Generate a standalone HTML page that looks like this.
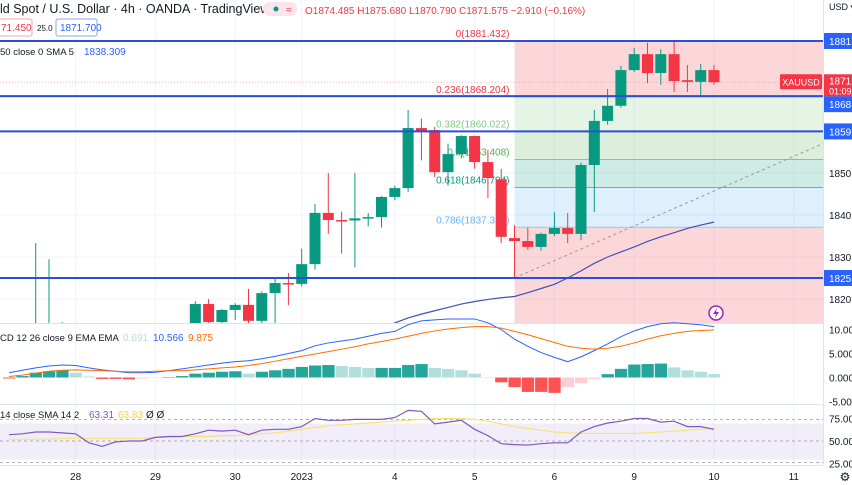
<!DOCTYPE html>
<html><head><meta charset="utf-8"><style>
body{margin:0;background:#fff;font-family:"Liberation Sans",sans-serif;}
svg{display:block}
</style></head><body>
<svg id="c" width="852" height="485" viewBox="0 0 852 485" font-family="Liberation Sans, sans-serif"></svg>
<script>
const opens=[null,null,1812,1812,1812,null,null,null,null,null,null,null,null,null,1813,1818.8,1814.5,1817.4,1818.6,1814.8,1821.4,1823.8,1823.6,1828.3,1840.5,1838.8,1838.7,1839.2,1839.5,1844.3,1846.4,1860.7,1860.2,1850.2,1854.5,1858.8,1852.6,1848.5,1834.5,1833.8,1832.4,1835.5,1836.9,1835.5,1851.9,1862.4,1866,1874.5,1878.3,1873.8,1878.3,1872.1,1871.7,1874.5];
const highs=[null,null,1833.3,1829.5,1814.5,null,null,null,null,null,null,null,null,null,1819.5,1820,1817.6,1819,1822.4,1821.8,1825,1826.2,1832,1842.6,1850,1840.8,1850,1840.5,1844.5,1847,1865,1863,1861,1857,1859,1858.9,1855.5,1851,1837.6,1837,1835.8,1840.7,1840.5,1852.5,1865,1870,1875.5,1879.8,1881,1879.5,1881.4,1875.7,1876,1875.7];
const lows=[null,null,1810,1810,1810,null,null,null,null,null,null,null,null,null,1812,1813,1813,1815,1814,1813,1813,1818.5,1823,1827,1835.5,1830.8,1827.5,1837.3,1837,1843.5,1845.5,1853,1849,1847,1853.5,1851,1844,1833.3,1825,1831.7,1831.5,1835,1833.3,1834,1840.7,1861.5,1865.5,1874,1871.4,1871,1869.3,1869.3,1868.3,1871];
const closes=[null,null,1812,1812,1812,null,null,null,null,null,null,null,null,null,1818.8,1814.5,1817.4,1818.6,1814.8,1821.4,1823.8,1823.6,1828.3,1840.5,1838.8,1838.6,1839.2,1839.5,1844.3,1846.4,1860.7,1860.0,1850.2,1854.5,1858.8,1852.6,1848.8,1834.8,1833.8,1832.4,1835.5,1836.9,1835.5,1851.9,1862.4,1866,1874.5,1878.3,1873.8,1878.3,1871.9,1871.7,1874.5,1871.6];
const smaIdx=[27,28,29,30,31,32,33,34,35,36,37,38,39,40,41,42,43,44,45,46,47,48,49,50,51,52,53];
const smaVal=[1811,1812.8,1814.3,1815.5,1816.4,1817.2,1818,1818.8,1819.4,1819.9,1820.3,1820.6,1821.5,1822.5,1823.5,1825,1826.7,1828.5,1830,1831.2,1832.4,1833.7,1834.8,1835.8,1836.8,1837.6,1838.3];
const hist=[-0.2,0.3,1.0,1.3,1.5,1.0,0.2,-0.3,-0.3,-0.4,-0.2,-0.1,0.1,0.3,0.8,1.0,1.2,1.3,0.8,1.2,1.5,1.8,2.2,2.5,2.6,2.4,2.2,2.0,2.0,2.0,2.6,2.8,2.0,1.8,1.5,0.8,0.1,-1.0,-2.0,-3.0,-3.0,-3.2,-2.0,-1.2,-0.3,0.7,1.8,2.7,2.8,2.9,2.1,1.5,1.2,0.7];
const macd=[1.0,1.5,2.0,2.4,2.6,2.5,2.0,1.6,1.3,1.0,1.0,1.1,1.4,1.8,2.2,2.6,3.0,3.3,3.5,3.9,4.4,5.0,5.6,6.6,7.2,7.6,8.0,8.6,9.2,9.6,11.0,11.8,12.0,12.2,12.2,12.2,11.4,10.0,8.0,6.5,5.2,4.2,3.3,4.3,5.6,7.0,8.5,9.7,10.6,11.2,11.4,11.2,11.0,10.6];
const signal=[0.2,0.5,0.9,1.3,1.5,1.6,1.5,1.4,1.3,1.2,1.2,1.3,1.4,1.4,1.6,1.8,2.0,2.2,2.5,2.9,3.4,3.9,4.4,4.9,5.4,5.9,6.4,7.0,7.5,8.0,8.6,9.2,9.7,10.1,10.4,10.6,10.6,10.3,9.6,8.9,8.1,7.3,6.5,6.1,5.9,6.1,6.5,7.2,8.0,8.7,9.2,9.6,9.8,9.9];
const rsi=[57,58,60,60,59,58,48,44,49,50,50,54,55,55,58,62,61,62,57,62,63,63,66,75,73,73,74,74,74,76,84,83,69,71,73,63,56,47,46,45.5,47,48,48,60,66,70,72,75,75,71,72,66,66,63];
const rsiMa=[52,52,52,52,53,53,53,53,53,53,53,54,54,55,55,55,56,56,57,58,59,61,63,65,67,68,69,70,71,72,73,74,75,75,75,74,72,69,66,64,62,60,59,58.5,58.5,58.5,58.5,58.5,59,60,61,62,63,64];
const priceTicks=[1820,1830,1840,1850];
const macdTicks=["10.000","5.000","0.000","-5.000"];
const macdTickVals=[10,5,0,-5];
const rsiTicks=[75,50,25];
const dateLabels=["28","29","30","2023","4","5","6","9","10","11"];
const dateIdx=[5,11,17,22,29,35,41,47,53,59];
const fibRatios=[0,0.236,0.382,0.5,0.618,0.786,1];
const fibLabels=["0(1881.432)","0.236(1868.204)","0.382(1860.022)","0.5(1853.408)","0.618(1846.794)","0.786(1837.330)",""];
const fibHigh=1881.432, fibLow=1825.0;
const hLines=[1881.432,1868.3,1859.9,1825.0];
const hLineLabels=["1881.4","1868.3","1859.9","1825.0"];

const svg=document.getElementById('c');
const NS='http://www.w3.org/2000/svg';
function el(t,a,p){const e=document.createElementNS(NS,t);for(const k in a)e.setAttribute(k,a[k]);(p||svg).appendChild(e);return e;}
const X=i=>714-(53-i)*13.3;
const PY=p=>173+(1850-p)*4.2;
const MY=v=>377.5-v*4.8;
const RY=v=>441-(v-50)*0.9;
const AX=823;

const defs=el('defs',{});
const cp=el('clipPath',{id:'cp'},defs);el('rect',{x:0,y:0,width:AX,height:323},cp);
const cm=el('clipPath',{id:'cm'},defs);el('rect',{x:0,y:312,width:AX,height:92},cm);
const cr=el('clipPath',{id:'cr'},defs);el('rect',{x:0,y:405,width:AX,height:60},cr);

dateIdx.forEach((d,k)=>{const g=el('line',{x1:X(d),x2:X(d),y1:0,y2:465,stroke:'#f0f3fa','stroke-width':1});
});
priceTicks.forEach(p=>{const g=el('line',{x1:0,x2:AX,y1:PY(p),y2:PY(p),stroke:'#f0f3fa'});
});

const fibColors=['rgba(242,54,69,0.2)','rgba(76,175,80,0.14)','rgba(76,175,80,0.2)','rgba(8,153,129,0.2)','rgba(33,150,243,0.15)','rgba(242,54,69,0.2)'];
const fy=r=>PY(fibHigh-(fibHigh-fibLow)*r);
const fibG=el('g',{'clip-path':'url(#cp)'});

for(let k=0;k<6;k++){const y1=fy(fibRatios[k]);const y2=k==5?323:fy(fibRatios[k+1]);
 const r=el('rect',{x:X(38),y:y1,width:AX-X(38),height:y2-y1,fill:fibColors[k]},fibG);
 }
const fibLineCol=['#f23645','#f23645','#81c784','#4caf50','#089981','#64b5f6','#f23645'];
fibRatios.forEach((r,k)=>{const y=fy(r);
 el('line',{x1:X(38),x2:AX,y1:y,y2:y,stroke:fibLineCol[k],'stroke-opacity':0.6},fibG);
 if(!fibLabels[k])return;
 const t=el('text',{x:X(38)-5,y:y-4,'font-size':10,'text-anchor':'end',fill:fibLineCol[k]},fibG);t.textContent=fibLabels[k];
 });

const tl=el('line',{x1:X(38),y1:PY(1825),x2:AX,y2:PY(1857),stroke:'#999','stroke-dasharray':'3 3'});


const cpl=el('line',{x1:0,x2:AX,y1:PY(closes[53]),y2:PY(closes[53]),stroke:'#f23645','stroke-opacity':0.35,'stroke-dasharray':'1 2'});


const cg=el('g',{'clip-path':'url(#cp)'});

for(let i=0;i<opens.length;i++){if(opens[i]==null)continue;
 const up=closes[i]>=opens[i];const col=up?'#089981':'#f23645';const x=X(i);
 const w=el('line',{x1:x,x2:x,y1:PY(highs[i]),y2:PY(lows[i]),stroke:col,'stroke-width':1},cg);
 
 const yt=PY(Math.max(opens[i],closes[i])),yb=PY(Math.min(opens[i],closes[i]));
 const b=el('rect',{x:x-5.5,y:yt,width:11,height:Math.max(1.5,yb-yt),fill:col},cg);
 }

const sp=el('polyline',{points:smaIdx.map((d,k)=>X(d)+','+PY(smaVal[k])).join(' '),fill:'none',stroke:'#3f51b5','stroke-width':1.2,'clip-path':'url(#cp)'});


hLines.forEach((p,k)=>{const l=el('line',{x1:0,x2:AX,y1:PY(p),y2:PY(p),stroke:'#2a4fd6','stroke-width':2});
 });

const li=el('g',{});
el('circle',{cx:716,cy:313,r:7,fill:'#fff',stroke:'#9c27b0','stroke-width':1.5},li);
el('path',{d:'M717 308 L713 314 L716 314 L715 318 L719 312 L716 312 Z',fill:'#9c27b0'},li);

[323,404,465].forEach(y=>{const l=el('line',{x1:0,x2:852,y1:y+0.5,y2:y+0.5,stroke:'#e0e3eb'});
 });

const mg=el('g',{'clip-path':'url(#cm)'});
hist.forEach((v,i)=>{const prev=i>0?hist[i-1]:v;let col;
 if(v>=0)col=v>=prev?'#26a69a':'#b2dfdb';else col=v<=prev?'#ff5252':'#ffcdd2';
 const y=v>=0?MY(v):MY(0);const r=el('rect',{x:X(i)-6,y:y,width:12.3,height:Math.abs(MY(v)-MY(0)),fill:col},mg);
 });
const ml=el('polyline',{points:macd.map((v,i)=>X(i)+','+MY(v)).join(' '),fill:'none',stroke:'#2962ff','stroke-width':1},mg);

const sl=el('polyline',{points:signal.map((v,i)=>X(i)+','+MY(v)).join(' '),fill:'none',stroke:'#ff6d00','stroke-width':1},mg);


const rg=el('g',{'clip-path':'url(#cr)'});
el('rect',{x:0,y:RY(75)+5,width:AX,height:RY(25)-RY(75)-9,fill:'rgba(126,87,194,0.1)'},rg);
[70,50,30].forEach(v=>{el('line',{x1:0,x2:AX,y1:RY(v+ (v==70?4:v==30?-4:0)),y2:RY(v+(v==70?4:v==30?-4:0)),stroke:'#9598a1','stroke-dasharray':'3 3','stroke-width':0.7},rg);});
const rm=el('polyline',{points:rsiMa.map((v,i)=>X(i)+','+RY(v)).join(' '),fill:'none',stroke:'#f7e27a','stroke-width':1.2},rg);

const rl=el('polyline',{points:rsi.map((v,i)=>X(i)+','+RY(v)).join(' '),fill:'none',stroke:'#7e57c2','stroke-width':1.2},rg);


const ax=el('rect',{x:AX,y:0,width:29,height:485,fill:'#fff'});
el('line',{x1:AX+0.5,x2:AX+0.5,y1:0,y2:465,stroke:'#e0e3eb'});
function txt(x,y,s,size,fill,anchor,name){const t=el('text',{x:x,y:y,'font-size':size,fill:fill,'text-anchor':anchor||'start'});t.textContent=s;
 return t;}
txt(829,10,'USD ▾',9,'#131722','start','currency-label');
priceTicks.forEach(p=>txt(829,PY(p)+4,p+'.000',10,'#131722','start','price-tick'));
macdTickVals.forEach((v,k)=>txt(829,MY(v)+4,macdTicks[k],10,'#131722','start','macd-tick'));
rsiTicks.forEach(v=>txt(829,RY(v)+4,v+'.00',10,'#131722','start','rsi-tick'));
hLines.forEach((p,k)=>{const y=PY(p)+(k==1?8:0);el('rect',{x:AX+1,y:y-8,width:29,height:16,fill:'#2962ff'});
 txt(829,y+4,hLineLabels[k],10,'#fff','start','level-price-tag');});
el('rect',{x:AX+1,y:PY(closes[53])-8,width:29,height:22,fill:'#f23645'});
txt(829,PY(closes[53])+2,'1871.6',10,'#fff','start','last-price-tag');
txt(829,PY(closes[53])+12,'01:09',9,'#fff','start','bar-countdown');
el('rect',{x:780,y:PY(closes[53])-8,width:42,height:15,fill:'#f23645',rx:1});
txt(801,PY(closes[53])+3,'XAUUSD',9,'#fff','middle','symbol-tag');

dateLabels.forEach((s,k)=>{if(X(dateIdx[k])<AX)txt(X(dateIdx[k]),480,s,10,'#131722','middle','date-label');});
txt(845,481,'⚙',12,'#131722','middle','settings-icon');

txt(0,13,'ld Spot / U.S. Dollar · 4h · OANDA · TradingView',12.5,'#131722','start','chart-title');
el('rect',{x:263,y:2,width:34,height:14,rx:7,fill:'#fce4ec'});
el('circle',{cx:276,cy:9,r:2.5,fill:'#089981'});
txt(289,13,'≈',10,'#f23645','middle','market-status');
txt(305,14,'O1874.485 H1875.680 L1870.790 C1871.575 −2.910 (−0.16%)',10,'#f23645','start','ohlc-legend');
const sb=el('rect',{x:-4,y:19,width:36,height:17,fill:'#fff',stroke:'#f7a6ad',rx:2});
txt(1,31,'71.450',10,'#f23645','start','sell-price');
txt(37,31,'25.0',8,'#131722','start','spread');
const bb=el('rect',{x:56,y:19,width:41,height:17,fill:'#fff',stroke:'#8aa7f5',rx:2});
txt(60,31,'1871.700',10,'#2962ff','start','buy-price');
txt(0,55,'50 close 0 SMA 5',9.5,'#131722','start','sma-legend');
txt(84,55,'1838.309',10,'#2962ff','start','sma-value');
txt(0,341,'CD 12 26 close 9 EMA EMA',9.5,'#131722','start','macd-legend');
txt(123,341,'0.691',10,'#b2dfdb','start','macd-hist-value');
txt(153,341,'10.566',10,'#2962ff','start','macd-value');
txt(188,341,'9.875',10,'#ff6d00','start','macd-signal-value');
txt(0,418,'14 close SMA 14 2',9.5,'#131722','start','rsi-legend');
txt(89,418,'63.31',10,'#7e57c2','start','rsi-value');
txt(118,418,'63.83',10,'#f7d24a','start','rsi-ma-value');
txt(146,418,'Ø Ø',10,'#131722','start','rsi-extra');
</script>
</body></html>
